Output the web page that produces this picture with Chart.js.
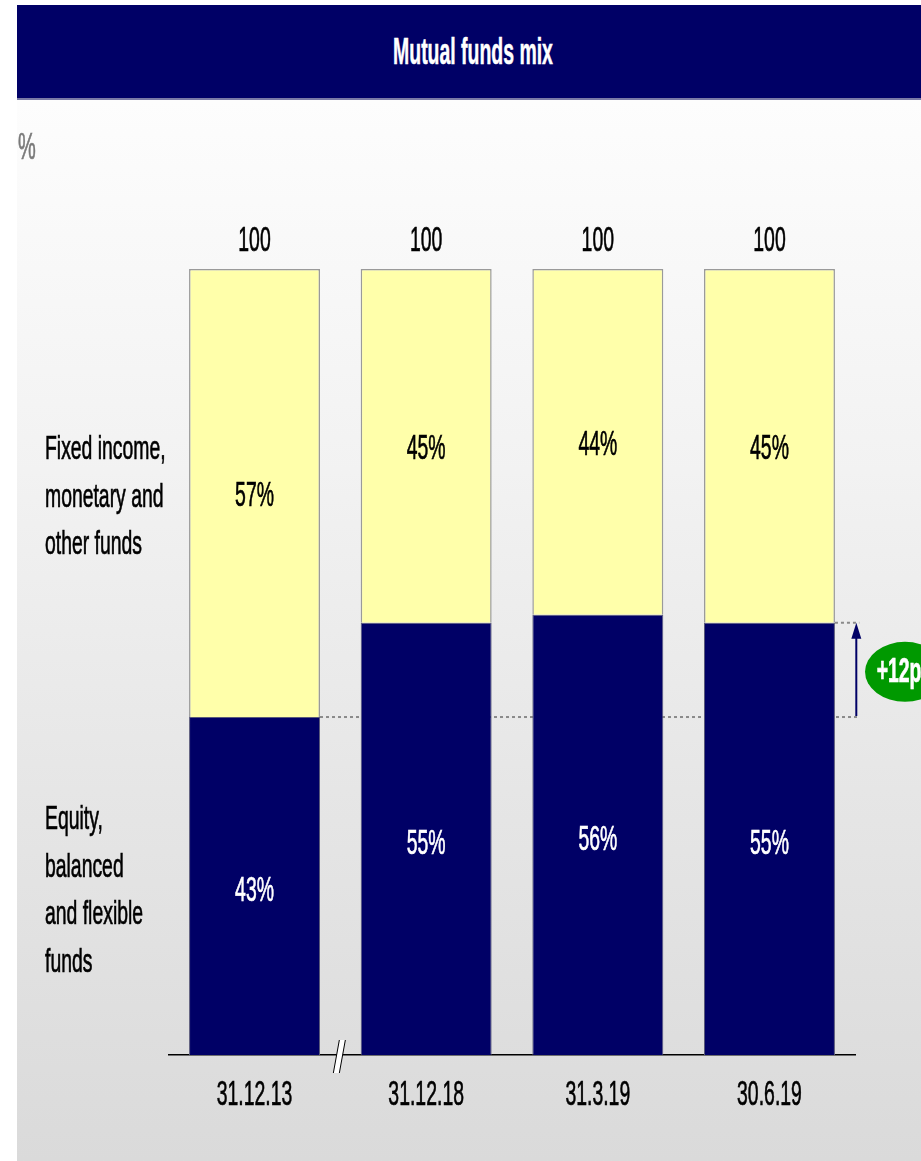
<!DOCTYPE html>
<html>
<head>
<meta charset="utf-8">
<script src="https://cdn.jsdelivr.net/npm/chart.js@4.4.1/dist/chart.umd.min.js"></script>
<style>
  html, body { margin: 0; padding: 0; background: #ffffff; }
  #wrap { position: relative; width: 921px; height: 1161px; overflow: hidden; }
  #bg { position: absolute; left: 17px; top: 100px; width: 904px; height: 1061px;
        background: linear-gradient(#fdfdfd 0%, #f2f2f2 35%, #e6e6e6 65%, #dadada 100%); }
  #titlebar { position: absolute; left: 17px; top: 5px; width: 904px; height: 93px;
        background: #000066; border-bottom: 2px solid #7a7aa6; }
  #title { position: absolute; left: 0; width: 912px; top: 0; height: 93px;
        text-align: center; color: #fff; font: bold 36px "Liberation Sans", Arial, sans-serif;
        line-height: 93px; -webkit-text-stroke: 0.5px #fff;
        transform: scaleX(0.54); transform-origin: 456px 50%; white-space: nowrap; }
  canvas { position: absolute; left: 0; top: 0; }
</style>
</head>
<body>
<div id="wrap">
  <div id="bg"></div>
  <div id="titlebar"><div id="title">Mutual funds mix</div></div>
  <canvas id="c" width="921" height="1161"></canvas>
</div>
<script>
const categories = ['31.12.13', '31.12.18', '31.3.19', '30.6.19'];
const equity = [43, 55, 56, 55];
const fixedIncome = [57, 45, 44, 45];
const totals = [100, 100, 100, 100];
const equityLabelLines = ['Equity,', 'balanced', 'and flexible', 'funds'];
const fixedLabelLines = ['Fixed income,', 'monetary and', 'other funds'];
const unitLabel = '%';
const changeLabel = '+12pp';

const SX = 0.555;
const FONT = '"Liberation Sans", Arial, sans-serif';

function txt(ctx, s, x, y, size, color, bold, align, sx) {
  ctx.save();
  ctx.translate(x, y);
  ctx.scale(sx || SX, 1);
  ctx.font = (bold ? 'bold ' : '') + size + 'px ' + FONT;
  ctx.fillStyle = color;
  ctx.strokeStyle = color;
  ctx.lineWidth = 0.7;
  ctx.textAlign = align || 'center';
  ctx.textBaseline = 'middle';
  ctx.fillText(s, 0, 0);
  ctx.strokeText(s, 0, 0);
  ctx.restore();
}

const decor = {
  id: 'decor',
  beforeDatasetsDraw(chart) {
    const ctx = chart.ctx;
    const y = chart.scales.y;
    const m = chart.getDatasetMeta(0).data;
    const yb = y.getPixelForValue(equity[0]);
    ctx.save();
    ctx.strokeStyle = '#8a8a8a';
    ctx.lineWidth = 2;
    ctx.setLineDash([3, 3]);
    ctx.beginPath();
    ctx.moveTo(m[0].x + m[0].width / 2, yb);
    ctx.lineTo(chart.chartArea.right + 3, yb);
    ctx.stroke();
    ctx.restore();
  },
  afterDraw(chart) {
    const ctx = chart.ctx;
    const xs = chart.scales.x, y = chart.scales.y;
    const m0 = chart.getDatasetMeta(0).data;
    const area = chart.chartArea;

    // unit label
    txt(ctx, unitLabel, 18, 149, 36, '#7a7a7a', false, 'left');

    // totals and segment labels
    for (let i = 0; i < categories.length; i++) {
      const x = xs.getPixelForValue(i);
      txt(ctx, String(totals[i]), x, y.getPixelForValue(totals[i]) - 28, 35, '#000', false);
      const e0 = y.getPixelForValue(0), e1 = y.getPixelForValue(equity[i]);
      txt(ctx, equity[i] + '%', x, (e0 + e1) / 2 + 5, 35, '#fff', false);
      const f1 = y.getPixelForValue(equity[i] + fixedIncome[i]);
      txt(ctx, fixedIncome[i] + '%', x, (e1 + f1) / 2 + 3, 35, '#000', false);
      txt(ctx, categories[i], x, area.bottom + 40, 35, '#000', false);
    }

    // series labels on the left
    fixedLabelLines.forEach((s, k) => txt(ctx, s, 45, 450 + k * 47.5, 34, '#000', false, 'left', 0.57));
    equityLabelLines.forEach((s, k) => txt(ctx, s, 45, 820 + k * 47.5, 34, '#000', false, 'left', 0.57));

    // axis break mark
    const bx = (xs.getPixelForValue(0) + xs.getPixelForValue(1)) / 2 - 2;
    const by = area.bottom;
    ctx.save();
    ctx.beginPath();
    ctx.moveTo(bx - 5, by + 18);
    ctx.lineTo(bx + 1, by + 18);
    ctx.lineTo(bx + 7, by - 15);
    ctx.lineTo(bx + 1, by - 15);
    ctx.closePath();
    ctx.fillStyle = '#fff';
    ctx.fill();
    ctx.strokeStyle = '#000';
    ctx.lineWidth = 1;
    ctx.beginPath();
    ctx.moveTo(bx - 5, by + 18); ctx.lineTo(bx + 1, by - 15);
    ctx.moveTo(bx + 1, by + 18); ctx.lineTo(bx + 7, by - 15);
    ctx.stroke();
    ctx.restore();

    // change arrow
    const last = categories.length - 1;
    const yTop = y.getPixelForValue(equity[last]);
    const yBot = y.getPixelForValue(equity[0]);
    const ax = area.right + 1;
    ctx.save();
    ctx.strokeStyle = '#8a8a8a';
    ctx.lineWidth = 2;
    ctx.setLineDash([3, 3]);
    ctx.beginPath();
    ctx.moveTo(m0[last].x + m0[last].width / 2, yTop);
    ctx.lineTo(ax + 3, yTop);
    ctx.stroke();
    ctx.setLineDash([]);
    ctx.strokeStyle = '#000066';
    ctx.lineWidth = 2;
    ctx.beginPath();
    ctx.moveTo(ax, yBot - 1);
    ctx.lineTo(ax, yTop + 12);
    ctx.stroke();
    ctx.fillStyle = '#000066';
    ctx.beginPath();
    ctx.moveTo(ax, yTop);
    ctx.lineTo(ax - 5, yTop + 16);
    ctx.lineTo(ax + 5, yTop + 16);
    ctx.closePath();
    ctx.fill();

    // badge
    const cy = (yTop + yBot) / 2 + 2;
    ctx.fillStyle = '#009900';
    ctx.beginPath();
    ctx.ellipse(905, cy, 40, 30, 0, 0, Math.PI * 2);
    ctx.fill();
    ctx.restore();
    txt(ctx, changeLabel, 905, cy, 35, '#fff', true);
  }
};

new Chart(document.getElementById('c'), {
  type: 'bar',
  data: {
    labels: categories,
    datasets: [
      { label: 'Equity, balanced and flexible funds', data: equity,
        backgroundColor: '#000066', borderColor: '#5a5a7a', borderWidth: 1 },
      { label: 'Fixed income, monetary and other funds', data: fixedIncome,
        backgroundColor: '#ffffaa', borderColor: '#9a9a9a', borderWidth: 1.5 }
    ]
  },
  options: {
    responsive: false,
    animation: false,
    datasets: { bar: { categoryPercentage: 1, barPercentage: 0.763 } },
    layout: { padding: { left: 168.7, right: 65.7, top: 269, bottom: 106 } },
    plugins: { legend: { display: false }, tooltip: { enabled: false } },
    scales: {
      x: { stacked: true, grid: { display: false, drawTicks: false },
           ticks: { display: false }, border: { color: '#000', width: 1.5 } },
      y: { stacked: true, display: false, min: 0, max: 100 }
    }
  },
  plugins: [decor]
});
</script>
</body>
</html>
